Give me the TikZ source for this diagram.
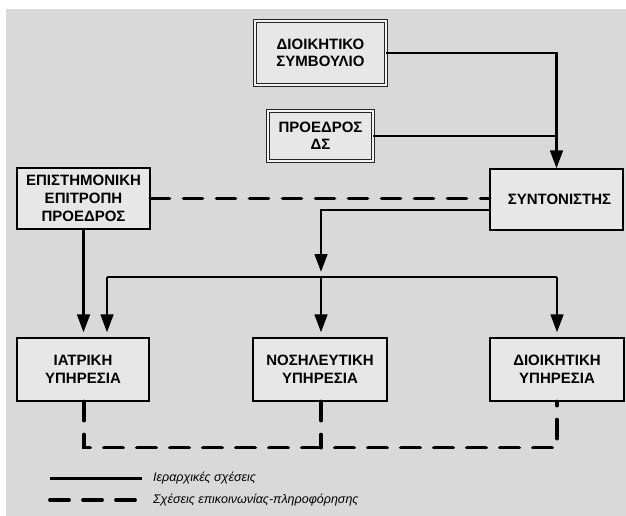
\documentclass[tikz,border=0pt]{standalone}
\usepackage{fontspec}
\setmainfont{Liberation Sans}
\usetikzlibrary{arrows.meta}
\definecolor{bg}{HTML}{D9D9DA}
\definecolor{boxfill}{HTML}{E7E7E8}
\tikzset{
  box/.style={draw=black, line width=1.1pt, fill=boxfill, align=center,
    font=\bfseries\fontsize{15}{18}\selectfont, inner sep=0pt},
  dbox/.style={draw=black!85, line width=0.9pt, double=boxfill!60!white, double distance=1.6pt,
    fill=boxfill, align=center, font=\bfseries\fontsize{15}{17}\selectfont, inner sep=0pt},
  solidln/.style={line width=2.9pt, line join=miter},
  arr/.style={solidln, -{Triangle[length=18pt,width=12.5pt]}, shorten >=5pt},
  dashln/.style={line width=3.8pt, line cap=round, dash pattern=on 19pt off 14pt},
  legtext/.style={anchor=west, font=\itshape\fontsize{12.5}{14}\selectfont, inner sep=0pt}
}
\begin{document}
\begin{tikzpicture}[x=1pt,y=-1pt]
\useasboundingbox (0,0) rectangle (626,516);
\fill[white] (0,0) rectangle (626,516);
\fill[bg] (6,9) rectangle (626,516);
% nodes
\node[dbox, minimum width=131pt, minimum height=64pt] (ds) at (320.5,53) {ΔΙΟΙΚΗΤΙΚΟ\\ΣΥΜΒΟΥΛΙΟ};
\node[dbox, minimum width=105pt, minimum height=50pt] (pds) at (320.5,136) {ΠΡΟΕΔΡΟΣ\\ΔΣ};
\node[box, minimum width=133pt, minimum height=61pt] (ep) at (83.5,198.5) {ΕΠΙΣΤΗΜΟΝΙΚΗ\\ΕΠΙΤΡΟΠΗ\\ΠΡΟΕΔΡΟΣ};
\node[box, minimum width=133pt, minimum height=61pt] (syn) at (556.5,199.5) {\hspace*{6pt}ΣΥΝΤΟΝΙΣΤΗΣ};
\node[box, minimum width=132pt, minimum height=63pt] (iat) at (83,369.5) {ΙΑΤΡΙΚΗ\\ΥΠΗΡΕΣΙΑ};
\node[box, minimum width=134pt, minimum height=63pt] (nos) at (320,369.5) {ΝΟΣΗΛΕΥΤΙΚΗ\\ΥΠΗΡΕΣΙΑ};
\node[box, minimum width=134pt, minimum height=63pt] (dio) at (557,369.5) {ΔΙΟΙΚΗΤΙΚΗ\\ΥΠΗΡΕΣΙΑ};
\coordinate (busl) at (107,277);
\coordinate (busr) at (557,277);
\coordinate (busm) at (321,277);
% hierarchy
\draw[arr, shorten >=0pt] (ds.east) -| (syn.north);
\draw[solidln] (pds.east) -- (pds.east -| syn.north);
\draw[arr, shorten >=5pt] ([yshift=-10.5pt]syn.west) -| (busm);
\draw[arr] (busl) -- (busl |- iat.north);
\draw[solidln] (busl) -- (busr);
\draw[arr] (busr) -- (busr |- dio.north);
\draw[arr] (busm) -- (busm |- nos.north);
\draw[arr] (ep.south) -- (ep.south |- iat.north);
% communication
\draw[dashln] (ep.east) -- (ep.east -| syn.west);
\draw[dashln] ([xshift=1pt]iat.south) -- ++(0,46) -| (dio.south);
\draw[dashln] ([xshift=1pt]nos.south) -- ++(0,46);
% legend
\coordinate (l1a) at (50,478); \coordinate (l1b) at (142,478);
\coordinate (l2a) at (50,500); \coordinate (l2b) at (142,500);
\draw[solidln, line width=3pt] (l1a) -- (l1b);
\draw[dashln] (l2a) -- (l2b);
\node[legtext] (t1) at (153,478) {Ιεραρχικές σχέσεις};
\node[legtext] (t2) at (153,500) {Σχέσεις επικοινωνίας-πληροφόρησης};
\end{tikzpicture}
\end{document}
